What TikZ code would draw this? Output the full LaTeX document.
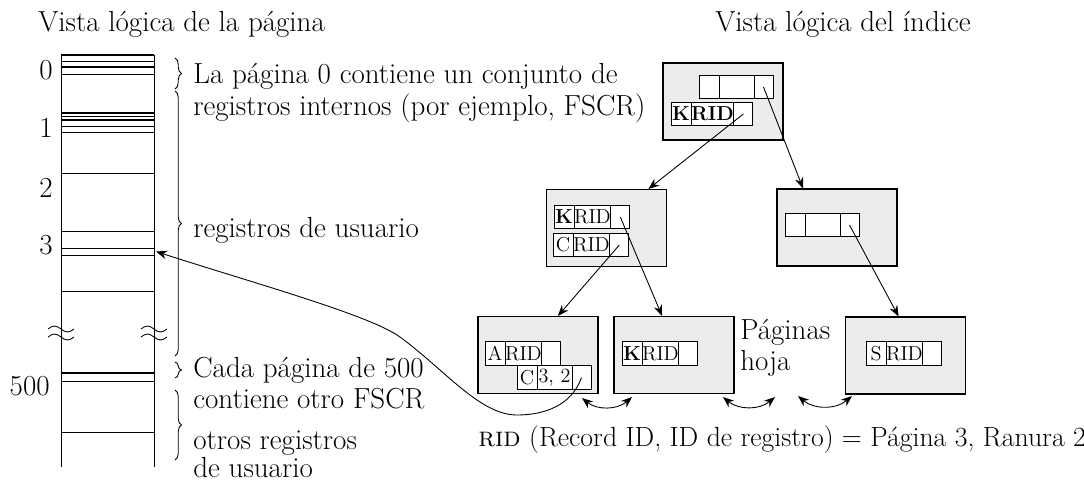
\documentclass[tikz,border=0pt]{standalone}
\usepackage{fontspec}
\usetikzlibrary{arrows.meta, positioning, decorations.pathreplacing}

\begin{document}
\begin{tikzpicture}[x=0.2mm, y=-0.2mm, >={Stealth[length=2.2mm, width=1.7mm]},
  font=\fontsize{16.5}{19}\selectfont,
  idx/.style={draw, line width=0.6pt, fill=gray!15, minimum width=24mm, minimum height=15.4mm, inner sep=0pt},
  cell/.style={draw, line width=0.5pt, fill=white, minimum height=4.7mm, inner sep=0pt, outer sep=0pt,
               font=\fontsize{11.5}{13}\selectfont},
  kc/.style={cell, minimum width=4mm},
  rc/.style={cell, minimum width=7mm},
  pc/.style={cell, minimum width=3.8mm},
  lbl/.style={anchor=base west, inner sep=0pt},
  num/.style={anchor=base east, inner sep=0pt},
  brc/.style={decorate, decoration={brace, amplitude=1.3mm}, line width=0.5pt},
  ptr/.style={->, line width=0.5pt},
  sib/.style={<->, line width=0.5pt, bend right=40}]

\useasboundingbox (0,0) rectangle (1084,482);

% ---- headings ---------------------------------------------------------------------
\node[lbl] (hpag) at (38,31)  {Vista lógica de la página};
\node[lbl] (hidx) at (715,31) {Vista lógica del índice};

% ---- the page column --------------------------------------------------------------
\draw[line width=0.5pt] (61,55) -- (61,467) (154,55) -- (154,467);
\foreach \y in {61,74,116,126,132,173,231,248,255,291,381,432}
  \draw[line width=0.5pt] (61,\y) -- (154,\y);
\foreach \y in {55,67,113,120,373}
  \draw[line width=1.2pt] (61,\y) -- (154,\y);
\foreach \x in {61,154} {
  \draw[line width=0.5pt] (\x-13,329) sin (\x-6.5,326) cos (\x,329) sin (\x+6.5,332) cos (\x+13,329);
  \draw[line width=0.5pt] (\x-13,337) sin (\x-6.5,334) cos (\x,337) sin (\x+6.5,340) cos (\x+13,337);
}
\coordinate (slot3) at (156,251.5);

\node[num] (n0)   at (53,79)  {0};
\node[num] (n1)   at (53,137) {1};
\node[num] (n2)   at (53,197) {2};
\node[num] (n3)   at (53,254) {3};
\node[num] (n500) at (50,395) {500};

% ---- braces and what they cover ---------------------------------------------------
\draw[brc] (175,58)  -- (175,89);
\draw[brc] (175,91)  -- (175,356);
\draw[brc] (175,362) -- (175,378);
\draw[brc] (175,390) -- (175,460);

\node[lbl] (t0a) at (193,83)  {La página 0 contiene un conjunto de};
\node[lbl] (t0b) at (193,115) {registros internos (por ejemplo, FSCR)};
\node[lbl] (tus) at (193,237) {registros de usuario};
\node[lbl] (t5a) at (193,377) {Cada página de 500};
\node[lbl] (t5b) at (193,408) {contiene otro FSCR};
\node[lbl] (t6a) at (193,449) {otros registros};
\node[lbl] (t6b) at (193,477) {de usuario};

% ---- index pages ------------------------------------------------------------------
\node[idx] (root) at (723,101.5) {};
\node[idx] (ml)   at (606.5,228) {};
\node[idx] (mr)   at (837,227.5) {};
\node[idx] (l1)   at (538,355)   {};
\node[idx] (l2)   at (674,355)   {};
\node[idx] (l3)   at (905.5,355.5) {};

% root
\node[kc, anchor=west] (r1a) at (699,87) {};
\node[rc, right=0pt of r1a] (r1b) {};
\node[pc, right=0pt of r1b] (r1c) {};
\node[kc, anchor=west] (r2a) at (671,114) {\textbf{K}};
\node[rc, right=0pt of r2a] (r2b) {\textbf{RID}};
\node[pc, right=0pt of r2b] (r2c) {};

% inner pages
\node[kc, anchor=west] (m1a) at (554,217) {\textbf{K}};
\node[rc, right=0pt of m1a] (m1b) {RID};
\node[pc, right=0pt of m1b] (m1c) {};
\node[kc, anchor=west] (m2a) at (553,245) {C};
\node[rc, right=0pt of m2a] (m2b) {RID};
\node[pc, right=0pt of m2b] (m2c) {};
\node[kc, anchor=west] (mra) at (785,225) {};
\node[rc, right=0pt of mra] (mrb) {};
\node[pc, right=0pt of mrb] (mrc) {};

% leaves
\node[kc, anchor=west] (a1a) at (485,353.5) {A};
\node[rc, right=0pt of a1a] (a1b) {RID};
\node[pc, right=0pt of a1b] (a1c) {};
\node[kc, anchor=west] (c1a) at (517,377.5) {C};
\node[rc, right=0pt of c1a] (c1b) {3, 2};
\node[pc, right=0pt of c1b] (c1c) {};
\node[kc, anchor=west] (k2a) at (622,353.5) {\textbf{K}};
\node[rc, right=0pt of k2a] (k2b) {RID};
\node[pc, right=0pt of k2b] (k2c) {};
\node[kc, anchor=west] (s3a) at (866,353.5) {S};
\node[rc, right=0pt of s3a] (s3b) {RID};
\node[pc, right=0pt of s3b] (s3c) {};

\node[lbl] (hoja1) at (740,339) {Páginas};
\node[lbl] (hoja2) at (740,370) {hoja};

% ---- pointers ---------------------------------------------------------------------
\draw[ptr] (r2c.center) -- (ml.43);
\draw[ptr] (r1c.center) -- (mr.131);
\draw[ptr] (m1c.center) -- (l2.107);
\draw[ptr] (m2c.center) -- (l1.63);
\draw[ptr] (mrc.center) -- (l3.100);

\coordinate (low1) at (517,415);
\coordinate (bend1) at (400,337);
\draw[ptr] (c1c.center) .. controls (572,405) and (545,415) .. (low1)
                        .. controls (480,415) and (445,370) .. (bend1)
                        .. controls (370,315) and (250,282) .. (slot3);

% leaf siblings
\coordinate (sb1) at (582,398);
\coordinate (sb2) at (632,397);
\coordinate (sb3) at (723,397);
\coordinate (sb4) at (775,397);
\coordinate (sb5) at (798,396);
\coordinate (sb6) at (852,396);
\draw[sib] (sb1) to (sb2);
\draw[sib] (sb3) to (sb4);
\draw[sib] (sb5) to (sb6);

\node[lbl, font=\fontsize{15.8}{18}\selectfont] (ridnote) at (478,446)
  {\textsc{rid} (Record ID, ID de registro) = Página 3, Ranura 2};

\end{tikzpicture}
\end{document}
